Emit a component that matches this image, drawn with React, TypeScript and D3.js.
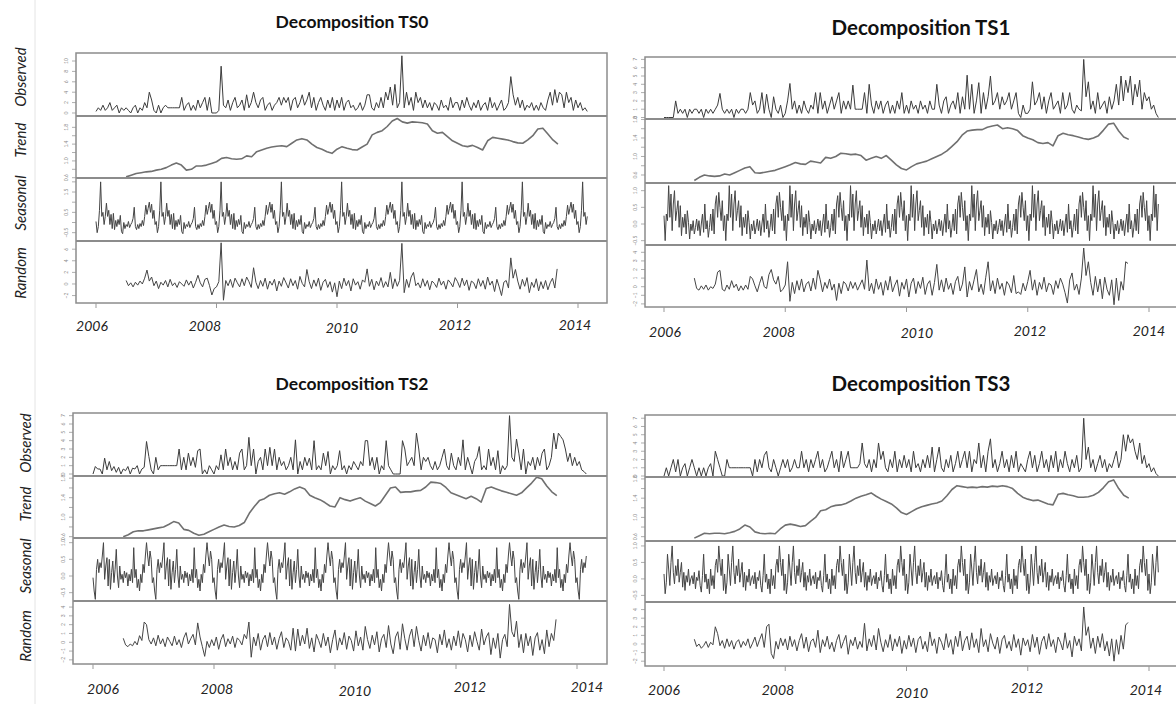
import React from "react";
import * as d3 from "d3";

// ---------- axis / label data ----------
const yearTicks = [2006, 2008, 2010, 2012, 2014];
const rowNames = ["Observed", "Trend", "Seasonal", "Random"];
const panelTitles = ["Decomposition TS0", "Decomposition TS1", "Decomposition TS2", "Decomposition TS3"];

const OBS_START = 2006;
const OBS_PER_YEAR = 26;
const RND_START = 2006.5;
const RND_PER_YEAR = 26;
const TREND_START = 2006.5;
const TREND_PER_YEAR = 12;
const SEAS_START = 2006;
const SEAS_PER_YEAR = 52;
const SEAS_WEEKS = 425;

// y tick values
const ts0ObsTicks = [0, 2, 4, 6, 8, 10];
const ts0TrendTicks = [0.6, 0.8, 1.0, 1.2, 1.4, 1.6, 1.8];
const ts0SeasTicks = [-0.5, 0, 0.5, 1, 1.5, 2];
const ts0RndTicks = [-2, 0, 2, 4, 6];
const obs7Ticks = [0, 1, 2, 3, 4, 5, 6, 7];
const trendTicks = [0.6, 0.8, 1.0, 1.2, 1.4, 1.6, 1.8];
const seasTicks = [-0.5, 0, 0.5, 1.0];
const rndTicks = [-2, -1, 0, 1, 2, 3, 4];

// ---------- TS0 ----------
const ts0Observed = [
  0.3,1,0.5,1.5,0.5,1,2,0.5,1,1.5,0,1,0.5,1,0.5,0,1,1.5,0,1,0.5,2,1,4,2.5,0.5,
  0,1.5,0,1,1.5,1,1,1,1,1,1,3,0.5,1.5,2,0.5,1.5,0.5,2.5,1,2,3,0.5,3,0,0,
  0,0.5,9,1.5,1,2.5,0.5,2,3,1,1.5,2.5,0.5,3.5,1,2,4,2,1,2.5,3,0.5,1.5,2,0.5,1.5,
  2,3,1.5,3,2,3,0.5,2.5,3,1,2,3.5,1.5,2.5,4,1,3,0.5,2,3,1.5,0.5,2.5,1,3,0.5,
  2.5,1,3,0.5,2,2.5,1,1.5,0.5,1,2,0.5,1.5,3.5,3.5,1,0.5,2,1,3,1,4,2.5,5,1.5,5.5,
  1,2,11,1,4,1.5,3,0.5,4,2,3,1,2.5,1,2,0.5,2,1.5,0.5,2.5,1,1.5,0.5,3,1,2,
  2,0.5,2.5,1,3,1.5,0.5,2,1,2.5,0.5,1.5,2,0.5,3,1,2,0.5,1.5,2.5,0.5,1,2,7,3.5,1.5,
  3,1,2.5,0.5,1.5,1,2,0.5,1.5,0.5,2,1,0.5,2.5,4,1.5,4.5,2,4,3.5,1,4,2,3,0.5,2.5,
  1,2,0.5,1,0.3,
];
const ts0Trend = [
  0.62,0.66,0.70,0.72,0.74,0.75,
  0.78,0.80,0.84,0.90,0.95,0.90,0.78,0.80,0.88,0.88,0.90,0.94,
  0.98,1.06,1.08,1.05,1.04,1.05,1.12,1.10,1.22,1.26,1.30,1.33,
  1.35,1.36,1.34,1.42,1.50,1.53,1.50,1.40,1.32,1.28,1.22,1.18,
  1.28,1.34,1.30,1.27,1.26,1.33,1.40,1.62,1.68,1.72,1.82,1.95,
  2.01,1.93,1.90,1.93,1.92,1.91,1.88,1.72,1.66,1.68,1.58,1.48,
  1.42,1.36,1.34,1.37,1.32,1.26,1.48,1.56,1.54,1.52,1.50,1.46,
  1.43,1.42,1.50,1.60,1.76,1.78,1.64,1.50,1.40,
];
const ts0SeasonalPattern = [
  0.05,-0.5,-0.2,0.6,2.0,0.3,0.5,-0.1,0.3,0.95,0.3,0.6,-0.1,0.4,-0.3,0.45,-0.35,0.1,-0.2,0.15,
  -0.1,0.35,-0.45,-0.55,0.0,-0.3,-0.1,-0.2,0.05,-0.25,-0.1,0.0,0.2,0.75,-0.2,-0.35,-0.1,-0.3,-0.05,-0.2,
  0.1,-0.15,0.3,0.85,0.4,0.7,1.0,0.5,0.9,0.2,0.6,-0.1,
];
const ts0Random = [
  0.6,-0.3,0.2,-0.5,0.3,-0.2,0.5,0,1,2.4,0.5,1.2,-0.3,
  0.5,-0.8,0.3,-0.2,0.6,-0.5,0.8,-0.3,0.2,-0.6,0.4,0,-0.4,0.7,-0.2,0.5,-0.7,0.3,1.5,0.2,-0.5,0.8,1.0,-0.3,-1.9,-0.8,
  -0.5,0.4,7.1,-2.8,0.6,-0.3,0.8,-0.6,1.0,0.2,-0.5,0.9,-0.3,1.2,0.4,-0.6,2.8,0.3,-0.8,0.6,-0.4,1.0,-0.9,0.5,-0.2,0.8,
  -1.2,0.5,-0.4,1.1,0.2,-0.7,0.9,-0.3,0.6,-0.9,1.3,0.1,-0.5,2.5,0.4,-0.8,0.7,-0.4,1,-1.1,0.3,0.8,-0.6,0.4,-1.4,0.2,
  -2.2,0.5,-0.8,1.0,-0.3,0.6,-1.2,0.9,-0.2,0.4,-0.9,0.7,0.3,2.6,-0.4,0.8,-1.0,0.5,-0.3,1.1,-0.6,0.4,-0.5,2.0,-0.8,0.9,
  -0.4,0.6,7.0,-1.5,0.8,-0.6,1.2,2.0,-0.3,0.2,-0.7,0.9,-0.4,0.6,-1.0,0.5,0.1,-0.6,1.0,-0.2,0.5,-0.9,0.7,0.2,-0.5,1.1,
  0.4,-0.6,1.0,-0.3,0.7,-1.1,0.5,0.2,-0.8,0.9,-0.4,0.6,-0.9,1.2,-0.2,0.5,-1.3,0.8,-0.5,-2.0,0.3,0.6,-0.7,4.5,1.0,2.5,
  0.5,-0.9,0.8,-0.4,1.1,-1.5,0.3,-0.6,0.9,-1.2,0.4,-0.8,0.6,-1.0,0.2,1.0,-0.7,2.6,
];

// ---------- TS1 ----------
const ts1Observed = [
  0,0,0,0,0,2,0.5,1,0.5,1,0,1,0.5,1,1,0.5,1,0,1,0.5,1,0.5,1,1.5,2.9,1,
  0.5,1,0.5,1,0,1,0.5,1,1,0.5,1,3,1.5,2,0.5,1,3,0.5,2.8,1,0,2.5,1,0.5,1.5,0,
  0.5,2,4.1,1,2,0.5,1.5,0.5,2,1,0.5,1.5,1,3,0.5,3,1,2,0.5,1.5,2.5,1,2,3,0.5,2,
  1,2,1,3.9,1,1,1,1,3,0.5,4,1.5,0.5,2,1,2,0.5,1.5,2,0.5,1.5,0.5,2,1,3,0.5,
  1.5,0.5,2,1,1.5,0.5,2,1,1.5,0.5,2,1,1,4,1.5,0.5,2,2.5,0.5,1.5,2,1,3,0.5,2.5,1,
  5.1,1,4,0.5,2,4.2,0.5,3,1,2.5,5,1.5,2,3,1,2.5,1.5,2,3,1,2,3,0.5,0,1.5,0.5,
  0.5,1,4.3,1.5,2,3,1,2.5,0.5,2,3,1,1.5,2,0.5,3,1,1.5,3,1,0.5,1.5,1,0.8,7,2.5,
  4.3,1,2,0.5,3,1,1.5,2,0.5,2.5,1,2,4,1.5,5,2,4.5,3,5,1.5,4,2.5,4.5,1,3,2,
  2.5,1,1.5,0.5,0,
];
const ts1Trend = [
  0.48,0.55,0.60,0.58,0.57,0.58,
  0.62,0.60,0.65,0.70,0.75,0.78,0.65,0.64,0.66,0.68,0.70,0.74,
  0.78,0.82,0.87,0.84,0.83,0.90,0.88,0.86,0.98,0.96,1.00,1.07,
  1.06,1.04,1.05,1.02,0.92,0.96,1.00,0.96,1.02,0.92,0.82,0.74,
  0.71,0.78,0.84,0.87,0.90,0.95,1.00,1.05,1.12,1.22,1.32,1.46,
  1.55,1.57,1.58,1.58,1.63,1.66,1.68,1.60,1.62,1.60,1.56,1.45,
  1.40,1.36,1.30,1.28,1.30,1.23,1.45,1.50,1.47,1.45,1.42,1.39,
  1.37,1.40,1.45,1.57,1.70,1.72,1.55,1.42,1.37,
];
const ts1SeasonalPattern = [
  0.25,-0.5,0.3,0.1,1.15,0.2,0.9,-0.2,0.6,1.0,0.1,0.4,0.7,-0.1,0.55,-0.35,0.2,-0.1,0.3,-0.3,
  0.4,0.05,-0.45,0.0,-0.2,0.1,-0.3,-0.1,0.15,-0.2,0.1,-0.35,0.0,0.3,-0.25,0.6,-0.15,0.1,-0.4,-0.1,
  0.3,-0.2,0.45,-0.3,0.6,0.85,0.2,0.95,0.5,0.1,0.7,-0.2,
];
const ts1Random = [
  1.0,-0.2,-0.4,0.1,-0.3,0.2,-0.4,0,-0.2,0.3,1.7,1.9,-0.3,
  -0.5,0.2,-0.3,0.7,-0.1,0.3,-0.5,0.1,-0.4,0.2,-0.3,1.2,0.9,0.1,-0.6,0.4,1.2,0,-0.2,1.4,2.0,0.8,0.3,1.2,-0.6,-0.3,
  0.2,2.9,-1.7,0.5,-0.8,0.7,-0.4,0.9,-0.6,0.3,0.6,-0.5,1.0,-0.3,1.9,0.8,-0.6,0.5,-0.2,0.9,-0.4,0.3,-1.6,0.4,-0.8,0.6,
  0.3,-0.5,0.6,-0.2,0.5,-0.4,0.2,0.8,-0.3,3.1,-0.5,0.4,-0.8,0.9,-0.3,0.5,-1.0,0.7,-0.4,1.2,-0.6,0.2,0.8,-1.1,0.5,-0.3,
  0.9,-1.2,0.4,1.0,-0.8,0.6,-0.2,1.1,-0.9,0.3,0.7,-1.0,0.5,2.6,-0.4,0.8,-0.6,1.0,-0.3,0.4,-0.9,0.6,1.2,-0.5,0.3,2.3,
  -1.2,0.6,-0.4,0.8,2.0,-0.6,0.3,-0.9,1.1,2.9,-0.5,0.7,-0.8,1.0,-0.3,0.4,-1.0,0.6,0.2,-0.7,1.3,-0.8,-0.6,-0.9,0.4,-0.5,
  0.6,1.9,-0.4,0.8,-1.0,0.5,-0.3,1.1,-0.6,0.4,0.2,-0.9,0.7,-0.2,1.0,0.3,-0.7,-1.9,0.8,1.6,-0.4,0.3,-0.9,1.0,4.5,1.3,
  2.9,0.5,-1.0,1.2,-0.6,0.9,-1.4,1.1,-0.3,-1.0,0.8,-2.1,1.0,-1.6,0.6,-0.4,2.9,2.7,
];

// ---------- TS2 ----------
const ts2Observed = [
  0,0.9,0.6,0.6,0,1.9,0.5,1.5,0.4,0.9,0.2,0.8,0,0.6,0.4,0.9,0,0.7,0.6,1,0,0.6,0.8,3.9,2.1,0.5,
  0,2,0.5,1,1,1,1,1,1,1,1,3,0.5,2,0.5,2.5,1,2,0.8,2.8,3,0,0.5,0,1,0.5,
  0,1,0.5,2.3,0.5,3,1,2,0.5,1.5,0.5,2.5,3,0.5,1,4.4,1,3,0,1.5,2,0.5,3,1,3.2,1,
  3,0.5,2,1,1.5,0.5,1,2,0.5,4.1,0,1.5,0.5,2,1,1.9,0.5,4,0.5,1,0.5,2.5,1,2.7,0,1,
  0.5,1,2.8,0.5,1,0,1,0.5,1.5,1,0.5,1.5,1,4,4,1,2,0.5,2,0,1,0.5,4,1,0.5,0,
  0,0,0,4,3,1,1.5,2,1,4.9,3,0.5,2,1.5,2,1,0.5,1.5,0.5,1,2,3,1,0.5,2.5,1,
  0.5,2,1,4.1,0.5,2,1,0,1.5,2,3.3,0.5,1,0.5,3,1,2,0.5,2.8,0,1,0.5,1,7,2,1.5,
  4.2,2.5,0.5,3,0,1.5,1,2,0.5,2,1,2.5,3,0.5,1,2,4.9,3,4.9,4.5,4.1,3,1.5,2.5,1,2,
  1,1.5,0.5,0.3,0,
];
const ts2Trend = [
  0.60,0.64,0.70,0.72,0.72,0.74,
  0.76,0.78,0.80,0.85,0.91,0.88,0.75,0.73,0.67,0.63,0.65,0.70,
  0.75,0.80,0.84,0.81,0.80,0.83,0.89,1.08,1.22,1.34,1.38,1.45,
  1.48,1.50,1.47,1.52,1.58,1.62,1.58,1.45,1.40,1.36,1.30,1.23,
  1.21,1.40,1.36,1.33,1.37,1.40,1.33,1.28,1.23,1.30,1.45,1.60,
  1.62,1.51,1.52,1.52,1.54,1.55,1.62,1.72,1.71,1.69,1.61,1.50,
  1.46,1.42,1.38,1.43,1.38,1.31,1.59,1.62,1.58,1.54,1.51,1.48,
  1.45,1.50,1.60,1.70,1.82,1.79,1.64,1.52,1.44,
];
const ts2SeasonalPattern = [
  -0.05,-0.45,-0.7,0.2,0.5,0.1,0.4,0.25,0.6,1.0,-0.1,0.3,0.55,-0.3,0.5,-0.4,0.1,0.45,-0.2,0.2,
  0.8,0.0,-0.35,0.3,-0.1,0.05,-0.2,0.15,-0.05,0.1,-0.3,0.05,-0.15,0.2,-0.2,0.85,-0.05,0.2,-0.35,-0.1,
  -0.45,0.05,-0.2,0.35,0.1,0.6,1.0,0.6,0.3,0.75,0.5,-0.2,
];
const ts2Random = [
  0.45,-0.3,-0.5,-0.2,-0.4,0.1,-0.3,0.75,0.2,2.3,2.0,0.3,-0.2,
  0.5,-0.4,0.8,-0.2,0.4,-0.5,0.6,0.1,-0.4,0.7,-0.3,0.3,-0.6,0.5,1.1,-0.2,0.4,0.9,-0.3,2.2,0.6,-0.5,-1.6,0.1,-0.6,0.3,
  -0.4,0.6,-0.8,0.3,0.9,-0.5,0.4,-0.2,0.7,-0.6,0.5,0.2,-0.3,0.9,0.4,2.3,-1.7,0.6,-0.4,1.0,-0.9,0.3,0.8,-0.5,1.1,-0.3,
  0.6,-0.8,0.4,1.2,-0.6,0.5,0.1,-0.9,1.6,-1.0,1.5,-0.4,0.8,-0.2,1.6,-0.7,0.5,-1.1,0.9,0.2,-0.6,1.0,-0.4,0.6,-1.2,0.3,
  1.4,-0.9,0.5,-0.3,1.1,-0.8,0.7,0.2,-1.0,1.3,-0.4,0.6,-0.9,1.8,0.3,-0.7,0.8,-0.3,1.2,-1.1,0.4,0.9,-0.6,1.9,-0.2,-1.3,
  0.6,1.2,-0.8,2.1,0.4,-0.9,0.7,1.5,-0.5,1.8,0.2,-1.0,0.8,-0.4,1.1,-0.7,0.5,0.3,-1.2,0.9,-0.3,1.4,-0.6,0.4,-0.9,0.7,
  -0.4,1.3,-0.6,1.0,0.3,-1.1,0.8,-0.5,1.2,0.1,-0.9,1.5,-0.3,0.6,1.1,-1.4,0.5,-0.7,1.0,-1.8,0.3,0.9,-0.5,4.3,1.2,0.6,
  2.4,-0.6,0.9,-1.2,1.0,-0.4,0.7,-1.5,0.5,1.1,-0.9,0.3,-1.3,1.4,-0.5,1.0,0.2,2.6,
];

// ---------- TS3 ----------
const ts3Observed = [
  0,1,0,1,2,0.5,2,0,1,1.5,0,1,2,1,0,1,0,1,0,1,1.5,0,3,2,1,0,
  0,2,1,1,1,1,1,1,1,1,1,1,0,2,0.5,2,1,2.5,3,1,0.5,2,1,0,1,2,
  1,2,0.5,1,2,1,1,3,1,2,0.5,2,1,2,3,1,2,0.5,1,2,3,1,2,0.5,3,1,
  2,3,1,1,1,1,1.5,4,1.5,1,2,0.5,2,1,4,2,3,1,0.5,2,1,3,0.5,2,1,2.5,
  1,2,0.5,3,1,1.5,0.5,2,1,2.5,1,3.5,0.5,2,3.5,1,0.5,2,1,2.5,0.5,1.5,3,1,2,3,
  1,3,0.5,2,1.5,4,1,2.5,0.5,3,4.5,1,2,0.5,1.5,3,1,2,0.5,2.5,1,3,0.5,1.5,1,0.5,
  2,3,1,2.5,0.5,1.5,3,1,2,0.5,2.5,1,3,0.5,2,1,3,1.5,0.5,2,1,2.5,0.5,1,7,2,
  3.5,1,2,0.5,1.5,2.5,1,2,0.5,1.5,1,2,3,1,2,5,3,5,4,4.5,3,2,4,1.5,2.5,1,
  1.5,0.5,1,0.3,0,
];
const ts3Trend = [
  0.57,0.62,0.67,0.66,0.67,0.67,
  0.66,0.68,0.71,0.76,0.84,0.80,0.70,0.67,0.66,0.67,0.66,0.76,
  0.84,0.86,0.84,0.81,0.83,0.92,1.00,1.14,1.16,1.22,1.25,1.26,
  1.29,1.34,1.40,1.44,1.47,1.51,1.44,1.38,1.33,1.28,1.20,1.10,
  1.06,1.12,1.18,1.22,1.25,1.28,1.30,1.34,1.45,1.58,1.66,1.64,
  1.62,1.63,1.62,1.64,1.63,1.65,1.64,1.66,1.64,1.60,1.50,1.42,
  1.38,1.35,1.36,1.32,1.28,1.26,1.48,1.50,1.47,1.45,1.42,1.42,
  1.43,1.46,1.52,1.62,1.74,1.78,1.60,1.46,1.40,
];
const ts3SeasonalPattern = [
  0.15,-0.45,-0.1,0.75,0.3,-0.2,0.5,1.0,0.2,-0.15,0.4,0.1,0.6,-0.1,0.2,0.5,-0.25,0.2,-0.35,0.1,
  -0.1,0.3,-0.2,0.0,0.1,-0.15,0.2,-0.3,0.05,-0.05,0.25,-0.2,-0.4,0.1,0.75,-0.1,0.15,-0.3,0.0,-0.45,
  0.3,-0.2,0.1,-0.3,0.4,0.6,0.2,1.0,0.5,0.1,0.6,-0.35,
];
const ts3Random = [
  0.55,-0.3,0,-0.5,-0.2,0.3,-0.4,0.2,-0.1,2.0,1.2,-0.2,0.4,
  -0.5,0.6,-0.3,0.4,-0.6,0.2,0.5,-0.4,0.3,-0.2,0.6,-0.5,0.1,0.8,-0.3,0.5,1.2,-0.4,2.0,2.3,-1.1,-1.7,0.3,-0.6,0.7,-0.2,
  0.6,-0.7,0.9,-0.3,0.5,-0.8,0.4,1.2,-0.5,0.8,-0.9,0.3,0.6,-0.4,1.6,-1.0,0.5,-0.3,0.9,-0.6,0.2,-0.9,0.4,1.1,-0.5,0.3,
  1.0,-1.2,0.5,-0.2,0.8,-0.6,0.3,-0.4,2.4,-0.8,0.6,-0.3,1.0,-0.7,1.8,0.2,-0.9,0.5,-0.4,1.1,-0.8,0.6,-0.3,0.9,-1.1,0.4,
  -0.6,1.0,-0.3,0.7,-1.0,0.5,0.9,-0.6,0.3,-0.9,1.4,-0.2,0.6,-1.1,0.8,0.2,-0.7,1.2,-0.4,0.5,-1.2,0.9,-0.3,1.5,-0.8,0.4,
  0.9,-0.7,1.3,-0.4,0.6,-1.0,1.8,-0.3,0.5,-0.9,1.2,0.1,-0.6,0.8,-1.1,0.5,1.0,-0.5,0.3,-0.8,1.1,-0.4,0.6,-1.3,0.7,-0.2,
  0.5,-0.9,1.1,-0.4,0.8,-1.2,0.3,0.9,-0.6,1.2,-0.3,0.5,-1.0,0.8,0.2,-0.7,1.3,-0.5,0.4,-1.5,0.9,-0.2,0.6,-0.8,4.3,1.0,
  2.0,-0.5,0.7,-1.1,0.9,-0.4,1.2,-0.8,0.3,-1.4,0.6,-2.0,0.5,-1.2,1.0,-0.6,2.2,2.5,
];

// ---------- layout ----------
type PanelCfg = {
  title: string;
  titleX: number;
  titleY: number;
  titleSize: number;
  left: number;
  right: number;
  rows: number[]; // 5 y-edges
  x2006: number;
  x2014: number;
  observed: number[];
  trend: number[];
  seasonal: number[];
  random: number[];
  domains: [number, number][];
  ticks: number[][];
  labelEvery: number[];
  decimals: number[];
  yearPos: [number, number][];
  rowLabelX?: number;
  rowLabelY?: number[];
};

const panels: PanelCfg[] = [
  {
    title: panelTitles[0], titleX: 352, titleY: 28, titleSize: 17.5,
    left: 76, right: 607, rows: [53, 116, 178, 241, 303], x2006: 96, x2014: 578,
    observed: ts0Observed, trend: ts0Trend, seasonal: ts0SeasonalPattern, random: ts0Random,
    domains: [[-0.58, 11.54], [0.593, 2.07], [-0.91, 2.19], [-3.28, 7.41]],
    ticks: [ts0ObsTicks, ts0TrendTicks, ts0SeasTicks, ts0RndTicks],
    labelEvery: [1, 2, 2, 1], decimals: [0, 1, 1, 0],
    yearPos: [[92, 326], [205, 326], [342, 328], [455, 325], [575, 325]],
    rowLabelX: 26, rowLabelY: [77, 140, 203, 273],
  },
  {
    title: panelTitles[1], titleX: 921, titleY: 35, titleSize: 20.5,
    left: 645, right: 1190, rows: [57, 119, 183, 245, 307], x2006: 664, x2014: 1149,
    observed: ts1Observed, trend: ts1Trend, seasonal: ts1SeasonalPattern, random: ts1Random,
    domains: [[-0.18, 7.29], [0.427, 1.81], [-0.63, 1.23], [-2.36, 4.85]],
    ticks: [obs7Ticks, trendTicks, seasTicks, rndTicks],
    labelEvery: [1, 2, 1, 1], decimals: [0, 1, 1, 0],
    yearPos: [[665, 332], [779, 332], [917, 333], [1030, 331], [1149, 331]],
  },
  {
    title: panelTitles[2], titleX: 352, titleY: 390, titleSize: 17.5,
    left: 73, right: 607, rows: [413, 476, 538, 601, 664], x2006: 93, x2014: 577,
    observed: ts2Observed, trend: ts2Trend, seasonal: ts2SeasonalPattern, random: ts2Random,
    domains: [[-0.24, 7.32], [0.573, 1.845], [-0.75, 1.14], [-2.47, 4.69]],
    ticks: [obs7Ticks, trendTicks, seasTicks, rndTicks],
    labelEvery: [1, 2, 1, 1], decimals: [0, 1, 1, 0],
    yearPos: [[103, 689], [217, 689], [355, 691], [470, 687], [587, 687]],
    rowLabelX: 31, rowLabelY: [443, 504, 566, 636],
  },
  {
    title: panelTitles[3], titleX: 921, titleY: 391, titleSize: 20.5,
    left: 645, right: 1190, rows: [415, 477, 541, 602, 666], x2006: 664, x2014: 1149,
    observed: ts3Observed, trend: ts3Trend, seasonal: ts3SeasonalPattern, random: ts3Random,
    domains: [[-0.12, 7.39], [0.51, 1.84], [-0.70, 1.15], [-2.56, 4.88]],
    ticks: [obs7Ticks, trendTicks, seasTicks, rndTicks],
    labelEvery: [1, 2, 1, 1], decimals: [0, 1, 1, 0],
    yearPos: [[664, 690], [778, 690], [912, 693], [1027, 688], [1146, 690]],
  },
];

function seriesPoints(values: number[], start: number, perYear: number): [number, number][] {
  return values.map((v, i) => [start + i / perYear, v]);
}
function seasonalPoints(pattern: number[]): [number, number][] {
  return d3.range(SEAS_WEEKS).map((w) => [SEAS_START + w / SEAS_PER_YEAR, pattern[w % pattern.length]]);
}

const FRAME = "#8c8c8c";

function Panel({ p }: { p: PanelCfg }) {
  const x = d3.scaleLinear().domain([2006, 2014]).range([p.x2006, p.x2014]);
  const data = [
    seriesPoints(p.observed, OBS_START, OBS_PER_YEAR),
    seriesPoints(p.trend, TREND_START, TREND_PER_YEAR),
    seasonalPoints(p.seasonal),
    seriesPoints(p.random, RND_START, RND_PER_YEAR),
  ];
  const styles = [
    { stroke: "#3c3c3c", width: 1 },
    { stroke: "#707070", width: 1.6 },
    { stroke: "#454545", width: 1 },
    { stroke: "#454545", width: 1 },
  ];
  const bottom = p.rows[4];
  return (
    <g>
      <text x={p.titleX} y={p.titleY} textAnchor="middle" fontWeight="bold" fontSize={p.titleSize} fill="#111">
        {p.title}
      </text>
      {data.map((pts, r) => {
        const y = d3.scaleLinear().domain(p.domains[r]).range([p.rows[r + 1], p.rows[r]]);
        const line = d3
          .line<[number, number]>()
          .x((d) => x(d[0]))
          .y((d) => y(d[1]));
        const fmt = d3.format(p.decimals[r] ? ".1f" : "d");
        const tv = p.ticks[r].filter((t) => y(t) >= p.rows[r] - 0.5 && y(t) <= p.rows[r + 1] + 0.5);
        const clipId = `clip-${p.title.replace(/\s/g, "")}-${r}`;
        return (
          <g key={r}>
            <clipPath id={clipId}>
              <rect x={p.left} y={p.rows[r]} width={p.right - p.left} height={p.rows[r + 1] - p.rows[r]} />
            </clipPath>
            <path
              d={line(pts) || ""}
              fill="none"
              stroke={styles[r].stroke}
              strokeWidth={styles[r].width}
              strokeLinejoin="round"
              clipPath={`url(#${clipId})`}
            />
            {tv.map((t, k) => (
              <g key={k}>
                <line x1={p.left - 4} x2={p.left} y1={y(t)} y2={y(t)} stroke="#999" strokeWidth={0.8} />
                {k % p.labelEvery[r] === 0 || p.labelEvery[r] === 1 ? (
                  <text
                    transform={`translate(${p.left - 8},${y(t)}) rotate(-90)`}
                    textAnchor="middle"
                    fontSize={5}
                    fill="#8a8a8a"
                  >
                    {fmt(t)}
                  </text>
                ) : null}
              </g>
            ))}
            {p.rowLabelX !== undefined && p.rowLabelY ? (
              <text
                transform={`translate(${p.rowLabelX},${p.rowLabelY[r]}) rotate(-90)`}
                textAnchor="middle"
                fontStyle="italic"
                fontSize={15}
                fill="#222"
              >
                {rowNames[r]}
              </text>
            ) : null}
          </g>
        );
      })}
      {/* frame */}
      <rect
        x={p.left}
        y={p.rows[0]}
        width={p.right - p.left}
        height={bottom - p.rows[0]}
        fill="none"
        stroke={FRAME}
        strokeWidth={1.5}
      />
      {p.rows.slice(1, 4).map((yy, i) => (
        <line key={i} x1={p.left} x2={p.right} y1={yy} y2={yy} stroke={FRAME} strokeWidth={1.8} />
      ))}
      {yearTicks.map((yr, i) => (
        <g key={yr}>
          <line x1={x(yr)} x2={x(yr)} y1={bottom} y2={bottom + 5} stroke="#999" strokeWidth={1} />
          <text
            x={p.yearPos[i][0]}
            y={p.yearPos[i][1] + 5}
            textAnchor="middle"
            fontStyle="italic"
            fontSize={14}
            fill="#222"
          >
            {String(yr)}
          </text>
        </g>
      ))}
    </g>
  );
}

export default function App() {
  return (
    <svg
      width={1176}
      height={704}
      style={{ position: "absolute", left: 0, top: 0, display: "block", background: "#fff" }}
      fontFamily="Lato, 'Open Sans', 'DejaVu Sans', sans-serif"
    >
      <rect x={0} y={0} width={1176} height={704} fill="#fff" />
      <line x1={35} x2={35} y1={0} y2={704} stroke="#e4e4e4" strokeWidth={1} />
      {panels.map((p) => (
        <Panel key={p.title} p={p} />
      ))}
    </svg>
  );
}
